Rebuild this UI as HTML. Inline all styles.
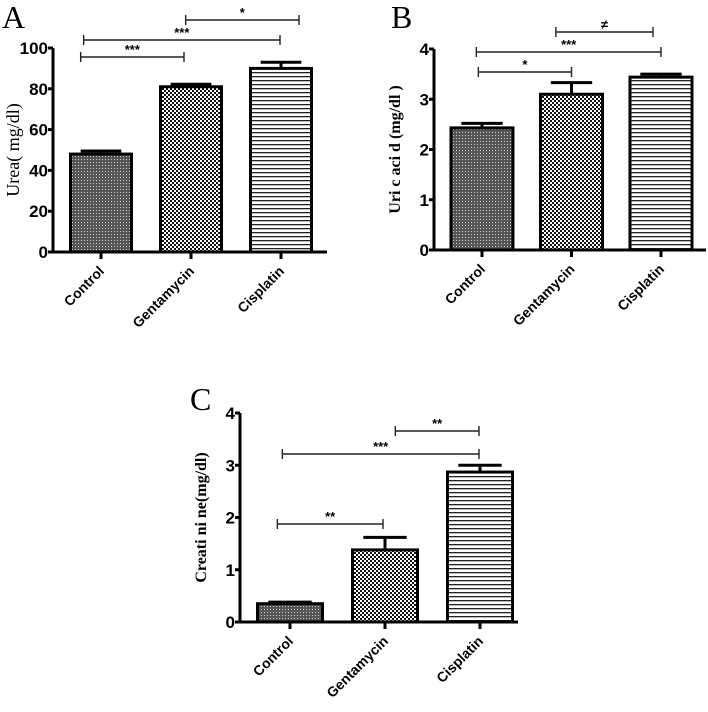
<!DOCTYPE html>
<html><head><meta charset="utf-8"><style>
html,body{margin:0;padding:0;background:#fff;width:708px;height:712px;overflow:hidden}
</style></head><body>
<svg id="chart" width="708" height="712" viewBox="0 0 708 712" xmlns="http://www.w3.org/2000/svg" font-family="Liberation Sans, Arial, sans-serif">
<defs>
<pattern id="pCtrl" width="3" height="3" patternUnits="userSpaceOnUse"><rect width="3" height="3" fill="#555"/><rect x="0" y="0" width="1" height="1" fill="#ccc"/></pattern>
<pattern id="pGent" width="4" height="4" patternUnits="userSpaceOnUse"><rect width="4" height="4" fill="#111"/><rect x="0" y="0" width="2" height="2" fill="#fff"/><rect x="2" y="2" width="2" height="2" fill="#fff"/></pattern>
<pattern id="pCis" width="4" height="4" patternUnits="userSpaceOnUse"><rect width="4" height="4" fill="#fff"/><rect x="0" y="0" width="4" height="1.3" fill="#222"/></pattern>
</defs>
</svg>
<script>
const categories = ["Control", "Gentamycin", "Cisplatin"];
const ureaValues = [48, 81, 90];
const ureaErrors = [1.5, 1.2, 3];
const uricValues = [2.43, 3.1, 3.44];
const uricErrors = [0.09, 0.23, 0.06];
const creatValues = [0.35, 1.38, 2.87];
const creatErrors = [0.03, 0.24, 0.13];
const ureaTicks = [0, 20, 40, 60, 80, 100];
const uricTicks = [0, 1, 2, 3, 4];
const creatTicks = [0, 1, 2, 3, 4];
const ureaSig = [[0,1,"***"],[0,2,"***"],[1,2,"*"]];
const uricSig = [[0,1,"*"],[0,2,"***"],[1,2,"≠"]];
const creatSig = [[0,1,"**"],[0,2,"***"],[1,2,"**"]];

const NS = "http://www.w3.org/2000/svg";
const svg = document.getElementById("chart");
function mk(tag, attrs, parent){const e=document.createElementNS(NS,tag);for(const k in attrs)e.setAttribute(k,attrs[k]);(parent||svg).appendChild(e);return e;}
const pats = ["url(#pCtrl)","url(#pGent)","url(#pCis)"];
const SERIF = "Liberation Serif, serif";

function panel(cfg){
  const g = mk("g",{});
  
  
  const maxV = cfg.ticks[cfg.ticks.length-1];
  const y = v => cfg.y0 - (v/maxV)*(cfg.y0-cfg.yTop);
  const x = i => cfg.ax + cfg.first + i*cfg.step;
  const lt = mk("text",{x:cfg.lx,y:cfg.ly,"font-size":32,"font-family":SERIF,fill:"#000"},g);
  lt.textContent = cfg.letter;
  
  
  cfg.values.forEach((v,i)=>{
    const r = mk("rect",{x:x(i)-cfg.bw/2,y:y(v),width:cfg.bw,height:cfg.y0-y(v),fill:pats[i],stroke:"#000","stroke-width":3},g);
    
    
    const e = cfg.errors[i];
    const eb = mk("path",{d:`M${x(i)} ${y(v)} V${y(v+e)} M${x(i)-cfg.bw/3} ${y(v+e)} H${x(i)+cfg.bw/3}`,stroke:"#000","stroke-width":3,fill:"none"},g);
    
    
  });
  const ax = mk("path",{d:`M${cfg.ax} ${cfg.yTop} V${cfg.y0} H${cfg.xEnd}`,stroke:"#000","stroke-width":3,fill:"none"},g);
  
  
  cfg.ticks.forEach(t=>{
    mk("line",{x1:cfg.ax-5,x2:cfg.ax,y1:y(t),y2:y(t),stroke:"#000","stroke-width":3},g);
    const tl = mk("text",{x:cfg.ax-5,y:y(t)+6,"font-size":17,"font-weight":"bold","text-anchor":"end"},g);
    tl.textContent = t;
    
    
  });
  categories.forEach((c,i)=>{
    mk("line",{x1:x(i),x2:x(i),y1:cfg.y0,y2:cfg.y0+7,stroke:"#000","stroke-width":3},g);
    const tx = mk("text",{x:x(i)+4,y:cfg.y0+20,"font-size":14,"font-weight":"bold","text-anchor":"end",transform:`rotate(-45 ${x(i)+4} ${cfg.y0+20})`},g);
    tx.textContent = c;
    
    
  });
  const yt = mk("text",{x:0,y:0,"font-size":cfg.titleSize,"font-family":SERIF,"font-weight":cfg.titleBold?"bold":"normal","text-anchor":"middle",transform:`translate(${cfg.ax-34} ${(cfg.y0+cfg.yTop)/2}) rotate(-90)`},g);
  yt.textContent = cfg.title;
  
  
  cfg.sig.forEach((s,k)=>{
    const [a,b,lab] = s; const sy = cfg.sigY[k];
    const x1 = x(a)-cfg.bw/3+cfg.sigOff[k][0], x2 = x(b)+cfg.sigOff[k][1];
    mk("path",{d:`M${x1} ${sy-5} V${sy+5} M${x1} ${sy} H${x2} M${x2} ${sy-5} V${sy+5}`,stroke:"#222","stroke-width":1.4,fill:"none"},g);
    const st = mk("text",{x:(x1+x2)/2,y:sy-3,"font-size":13,"font-weight":"bold","text-anchor":"middle"},g);
    st.textContent = lab;
    
    
  });
}
panel({name:"panel-a-urea",letter:"A",lx:2,ly:28,ax:53,yTop:48,y0:252,xEnd:327,first:48,step:90,bw:61,
  values:ureaValues,errors:ureaErrors,ticks:ureaTicks,title:"Urea( mg/dl)",titleBold:false,titleSize:18,
  sig:ureaSig,sigY:[57,40,20],sigOff:[[0,-7],[3,-1],[15,18]]});
panel({name:"panel-b-uric-acid",letter:"B",lx:391,ly:28,ax:434,yTop:49,y0:250,xEnd:706,first:48,step:89.5,bw:62,
  values:uricValues,errors:uricErrors,ticks:uricTicks,title:"Uri c aci d (mg/dl )",titleBold:true,titleSize:16,
  sig:uricSig,sigY:[72,52,32],sigOff:[[17,0],[15,0],[5,-8]]});
panel({name:"panel-c-creatinine",letter:"C",lx:190,ly:410,ax:240,yTop:413,y0:622,xEnd:518,first:50,step:95,bw:65,
  values:creatValues,errors:creatErrors,ticks:creatTicks,title:"Creati ni ne(mg/dl)",titleBold:true,titleSize:16,
  sig:creatSig,sigY:[524,454,431],sigOff:[[9,-2],[14,-1],[32,-1]]});
</script>
</body></html>
